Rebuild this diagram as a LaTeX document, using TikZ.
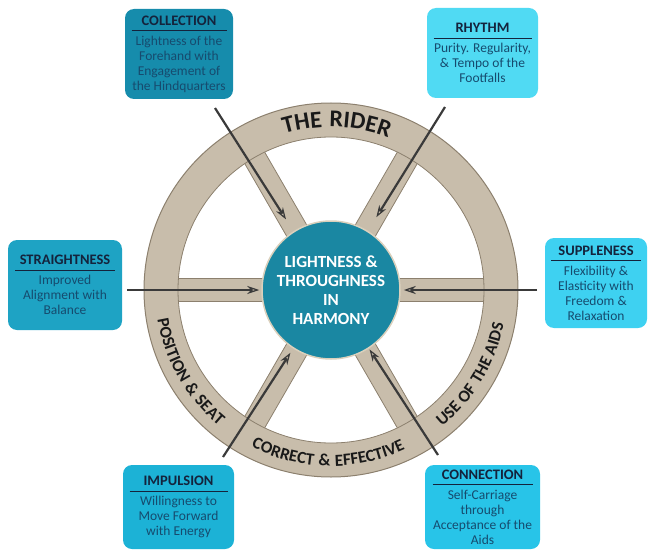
\documentclass[tikz,border=0pt]{standalone}
\usepackage{fontspec}
\setmainfont{Carlito}
\newfontfamily\rimfam{Carlito}[LetterSpace=6]
\usetikzlibrary{decorations.text,arrows.meta}
\definecolor{wood}{RGB}{200,189,171}
\definecolor{woodedge}{RGB}{140,128,110}
\definecolor{hubteal}{RGB}{26,135,162}
\definecolor{hubring}{RGB}{218,208,188}
\definecolor{navy}{RGB}{20,35,60}
\definecolor{bodycol}{RGB}{22,75,110}
\definecolor{arrowgray}{RGB}{58,58,58}
\definecolor{rimtext}{RGB}{25,25,25}
\definecolor{cCollection}{RGB}{22,140,172}
\definecolor{cRhythm}{RGB}{80,218,243}
\definecolor{cStraight}{RGB}{30,163,196}
\definecolor{cSupple}{RGB}{62,209,241}
\definecolor{cImpulse}{RGB}{28,178,214}
\definecolor{cConnect}{RGB}{40,196,232}
\newcommand{\titlefont}{\fontsize{14.5}{15}\selectfont\bfseries\color{navy}}
\newcommand{\bodyfont}{\fontsize{13.5}{15}\selectfont}
\newcommand{\rimfont}{\rimfam\fontsize{17}{17}\selectfont\bfseries\color{rimtext}}
\newcommand{\riderfont}{\rimfam\fontsize{24}{24}\selectfont\bfseries\color{rimtext}}
\newcommand{\boxline}[1]{\textcolor{navy}{\rule{#1}{0.8pt}}}
\begin{document}
\begin{tikzpicture}[x=1pt,y=1pt,
  infobox/.style={rounded corners=9pt, align=center, inner sep=2pt, font=\bodyfont, text=bodycol},
  spokebar/.style={fill=wood, draw=woodedge, line width=0.8pt},
  arr/.style={draw=arrowgray, line width=2.2pt, -{Stealth[open, length=12pt, width=8pt, line width=1.2pt]}},
  rimdeco/.style={decorate, decoration={text along path, text align=center, text={#1}}}
]
\useasboundingbox (0,0) rectangle (650,550);
\coordinate (O) at (331,260);

% spokes
\foreach \a in {0,60,120}{
  \begin{scope}[shift={(331,260)}, rotate=\a]
    \draw[spokebar] (-165,-11.5) rectangle (165,11.5);
  \end{scope}
}
% rim
\fill[wood, even odd rule] (O) circle (187pt) (O) circle (153pt);
\draw[woodedge, line width=1pt] (O) circle (187pt);
\draw[woodedge, line width=0.8pt] (O) circle (153pt);

% rim texts
\path[rimdeco={|\riderfont|THE RIDER}] (331,260) ++(150:163pt) arc[start angle=150, end angle=26, radius=163pt];
\path[rimdeco={|\rimfont|POSITION {\&} SEAT}] (331,260) ++(160:176pt) arc[start angle=160, end angle=260, radius=176pt];
\path[rimdeco={|\rimfont|CORRECT {\&} EFFECTIVE}] (331,260) ++(215:176pt) arc[start angle=215, end angle=323, radius=176pt];
\path[rimdeco={|\rimfont|USE OF THE AIDS}] (331,260) ++(279:176pt) arc[start angle=279, end angle=379, radius=176pt];

% hub
\node[circle, minimum size=138pt, inner sep=0pt, fill=hubteal, draw=hubring, line width=1.5pt,
      align=center, text=white, font=\fontsize{17}{19}\selectfont\bfseries] (hub) at (O)
      {LIGHTNESS \&\\THROUGHNESS\\IN\\HARMONY};

% boxes
\node[infobox, fill=cCollection, minimum width=108pt, minimum height=90pt] (coll) at (179,496)
  {{\titlefont COLLECTION}\\[-9pt]\boxline{95pt}\\[-1pt]Lightness of the\\Forehand with\\Engagement of\\the Hindquarters};
\node[infobox, fill=cRhythm, minimum width=111pt, minimum height=90pt] (rhy) at (482.5,497)
  {{\titlefont RHYTHM}\\[-9pt]\boxline{98pt}\\[-1pt]Purity. Regularity,\\\& Tempo of the\\Footfalls};
\node[infobox, fill=cStraight, minimum width=114pt, minimum height=90pt] (str) at (65,265)
  {{\titlefont STRAIGHTNESS}\\[-9pt]\boxline{100pt}\\[-1pt]Improved\\Alignment with\\Balance};
\node[infobox, fill=cSupple, minimum width=102pt, minimum height=90pt] (sup) at (596,267)
  {{\titlefont SUPPLENESS}\\[-9pt]\boxline{90pt}\\[-1pt]Flexibility \&\\Elasticity with\\Freedom \&\\Relaxation};
\node[infobox, fill=cImpulse, minimum width=111pt, minimum height=84pt] (imp) at (178.5,43)
  {{\titlefont IMPULSION}\\[-9pt]\boxline{98pt}\\[-1pt]Willingness to\\Move Forward\\with Energy};
\node[infobox, fill=cConnect, minimum width=115pt, minimum height=84pt] (con) at (482.5,43)
  {{\titlefont CONNECTION}\\[-9pt]\boxline{100pt}\\[-1pt]Self-Carriage\\through\\Acceptance of the\\Aids};

% arrow starts
\coordinate (s1) at (215,442);
\coordinate (s2) at (445,443);
\coordinate (s3) at (127,260);
\coordinate (s4) at (537,260);
\coordinate (s5) at (223,93);
\coordinate (s6) at (438,95);

\draw[arr, shorten >=14pt] (s1) -- (hub);
\draw[arr, shorten >=16pt] (s2) -- (hub);
\draw[arr, shorten >=2pt] (s3) -- (hub);
\draw[arr, shorten >=3pt] (s4) -- (hub);
\draw[arr, shorten >=5pt] (s5) -- (hub);
\draw[arr, shorten >=1pt] (s6) -- (hub);
\end{tikzpicture}
\end{document}
